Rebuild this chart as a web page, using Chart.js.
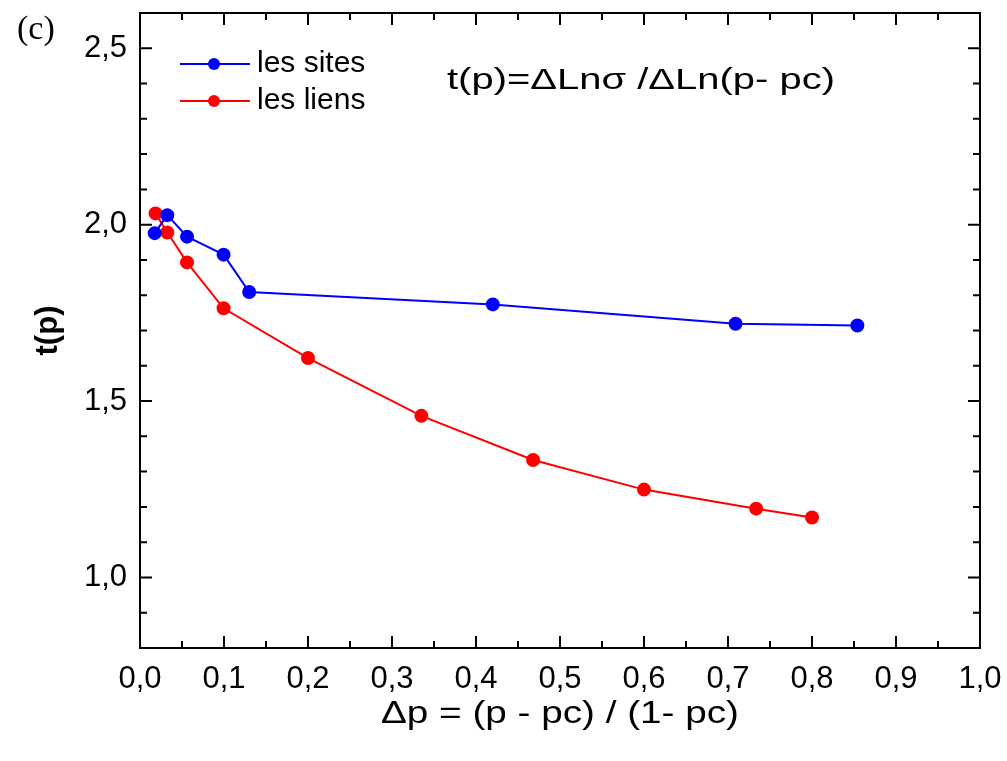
<!DOCTYPE html>
<html>
<head>
<meta charset="utf-8">
<script src="https://cdn.jsdelivr.net/npm/chart.js@4/dist/chart.umd.min.js"></script>
<style>
  html, body { margin: 0; padding: 0; background: #fff; }
  #wrap { position: relative; width: 1007px; height: 761px; }
</style>
</head>
<body>
<div id="wrap"><canvas id="chart"></canvas></div>
<script>
"use strict";
const $ = id => document.getElementById(id);

/* ---------- data ---------- */
const sitesX = [0.0175, 0.0325, 0.056, 0.0995, 0.130, 0.420, 0.709, 0.854];
const sitesY = [1.976, 2.027, 1.966, 1.915, 1.809, 1.774, 1.719, 1.714];
const liensX = [0.0185, 0.0325, 0.056, 0.0995, 0.200, 0.335, 0.468, 0.600, 0.7335, 0.800];
const liensY = [2.032, 1.978, 1.893, 1.763, 1.622, 1.458, 1.333, 1.249, 1.195, 1.170];
const seriesNames = ["les sites", "les liens"];
const xTitle = "\u0394p = (p - pc) / (1- pc)";
const yTitle = "t(p)";
const formula = "t(p)=\u0394Ln\u03c3 /\u0394Ln(p- pc)";
const panelTag = "(c)";

const FONT = "'Liberation Sans', Arial, sans-serif";
const comma = v => v.toFixed(1).replace(".", ",");
const pts = (xs, ys) => xs.map((x, i) => ({ x, y: ys[i] }));
const near = (v, step) => Math.abs(v / step - Math.round(v / step)) < 1e-6;

// text stretched to a given width (the figure's lettering is wider than the font)
function wideText(ctx, txt, x, y, width, align) {
  const w = ctx.measureText(txt).width;
  ctx.save();
  ctx.translate(align === "center" ? x - width / 2 : x, y);
  ctx.scale(width / w, 1);
  ctx.textAlign = "left";
  ctx.fillText(txt, 0, 0);
  ctx.restore();
}

/* ---------- frame, inward ticks, legend, labels ---------- */
const decor = {
  id: "decor",
  afterDraw(c) {
    const ctx = c.ctx, a = c.chartArea;
    const xs = c.scales.x, ys = c.scales.y;
    ctx.save();
    ctx.strokeStyle = "#000";
    ctx.lineWidth = 2;
    ctx.strokeRect(a.left, a.top, a.right - a.left, a.bottom - a.top);

    ctx.beginPath();
    xs.ticks.forEach(t => {
      const px = xs.getPixelForValue(t.value);
      const len = near(t.value, 0.1) ? 12 : 7;
      ctx.moveTo(px, a.bottom); ctx.lineTo(px, a.bottom - len);
      ctx.moveTo(px, a.top); ctx.lineTo(px, a.top + len);
    });
    ys.ticks.forEach(t => {
      const py = ys.getPixelForValue(t.value);
      const len = near(t.value, 0.5) ? 12 : 7;
      ctx.moveTo(a.left, py); ctx.lineTo(a.left + len, py);
      ctx.moveTo(a.right, py); ctx.lineTo(a.right - len, py);
    });
    ctx.stroke();

    // legend
    ctx.font = "30px " + FONT;
    ctx.textBaseline = "middle";
    c.data.datasets.forEach((ds, i) => {
      const y = 64 + i * 37;
      ctx.strokeStyle = ds.borderColor;
      ctx.lineWidth = 2;
      ctx.beginPath(); ctx.moveTo(180, y); ctx.lineTo(250, y); ctx.stroke();
      ctx.fillStyle = ds.backgroundColor;
      ctx.beginPath(); ctx.arc(214, y, 6, 0, Math.PI * 2); ctx.fill();
      ctx.fillStyle = "#000";
      ctx.fillText(ds.label, 257, y);
    });

    // formula
    ctx.font = "30px " + FONT;
    wideText(ctx, formula, 447, 81, 388, "left");

    // x title
    ctx.font = "31px " + FONT;
    wideText(ctx, xTitle, (a.left + a.right) / 2, 714, 358, "center");

    // panel tag
    ctx.font = "34px 'Liberation Serif', 'Times New Roman', serif";
    ctx.fillText(panelTag, 17, 30);
    ctx.restore();
  }
};

/* ---------- chart ---------- */
new Chart($("chart"), {
  type: "line",
  data: { datasets: [
    { label: seriesNames[0], data: pts(sitesX, sitesY), borderColor: "#0000ff",
      backgroundColor: "#0000ff", borderWidth: 2, pointRadius: 6, tension: 0 },
    { label: seriesNames[1], data: pts(liensX, liensY), borderColor: "#ff0000",
      backgroundColor: "#ff0000", borderWidth: 2, pointRadius: 6, tension: 0 }
  ] },
  options: {
    responsive: true, maintainAspectRatio: false, animation: false,
    layout: { padding: { left: 0, top: 13, right: 27, bottom: 0 } },
    plugins: { legend: { display: false }, tooltip: { enabled: false } },
    scales: {
      x: { type: "linear", min: 0, max: 1,
        grid: { display: false, drawTicks: false }, border: { display: false },
        ticks: { stepSize: 0.05, autoSkip: false, maxRotation: 0, padding: 13, color: "#000",
          font: { family: FONT, size: 31 },
          callback: v => near(v, 0.1) ? comma(v) : "" },
        afterFit: s => { s.height = 113; s.paddingLeft = 0; s.paddingRight = 0; } },
      y: { type: "linear", min: 0.8, max: 2.6,
        grid: { display: false, drawTicks: false }, border: { display: false },
        ticks: { stepSize: 0.1, autoSkip: false, padding: 13, color: "#000",
          font: { family: FONT, size: 31 },
          callback: v => near(v, 0.5) ? comma(v) : "" },
        title: { display: true, text: yTitle, color: "#000",
          font: { family: FONT, size: 31, weight: "bold" }, padding: { top: 30, bottom: 0 } },
        afterFit: s => { s.width = 140; s.paddingTop = 0; s.paddingBottom = 0; } }
    }
  },
  plugins: [decor]
});
</script>
</body>
</html>
